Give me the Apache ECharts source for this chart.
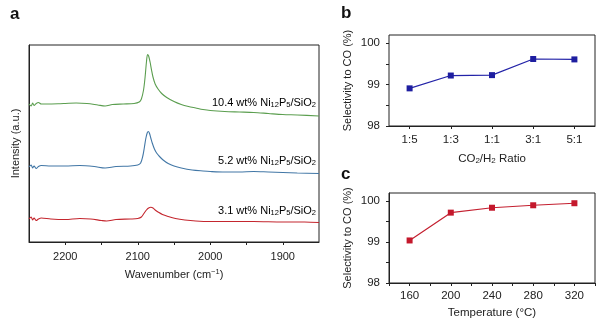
<!DOCTYPE html>
<html>
<head>
<meta charset="utf-8">
<script src="https://cdn.jsdelivr.net/npm/echarts@6/dist/echarts.min.js"></script>
<style>html,body{margin:0;padding:0;background:#fff;}#c{width:600px;height:324px;}</style>
</head>
<body>
<div id="c"></div>
<script>
// Panel a: DRIFTS spectra (wavenumber, relative intensity a.u.)
const wnGreen = [2250,2247,2245,2243,2240,2237,2233,2225,2210,2200,2185,2170,2155,2145,2135,2120,2105,2098,2095,2092,2090,2088,2086.5,2085,2083,2081,2079,2076,2072,2067,2060,2050,2040,2030,2020,2010,2000,1980,1960,1940,1920,1900,1880,1850];
const intGreen = [138,136,139,136.5,138.5,139.5,138,138,138.2,138.5,139,138.5,137,136,137.5,138,138.5,140,143,152,164,180,187.5,186,180,172,165,158,153,148.5,144.5,140.5,137.5,135.5,134,132.5,131.5,130.5,130,129.5,128.5,127.5,127,126];
const wnBlue = [2250,2247,2245,2243,2240,2237,2233,2220,2200,2180,2160,2145,2130,2110,2100,2096,2093,2091,2089,2087,2085.5,2084,2082,2080,2077,2074,2070,2065,2058,2050,2040,2025,2010,2000,1980,1960,1940,1920,1900,1880,1850];
const intBlue = [75,77,74,76,73.5,75.5,76.5,76,76,76.5,75.5,74,75.5,76,77,79,86,94,103,109,110.5,109,104,99,93,89,85.5,82,78.5,76,74,72,71,70.5,70,70,70.5,70,69.5,69,68.5];
const wnRed = [2250,2247,2245,2243,2240,2237,2233,2220,2200,2180,2165,2150,2143,2130,2110,2100,2095,2091,2088,2085,2082,2079,2076,2072,2066,2058,2048,2035,2020,2000,1970,1940,1900,1870,1850];
const intRed = [23,25,22,24,21.5,23,24,23,22.5,23.5,23,21.5,21,22.5,23,23.5,25,29,32,34,34.7,34,32,30,27.5,25.5,23.5,22,21,20.5,20.5,20.5,20,20,19.5];
const xTicksA = [2200,2100,2000,1900];

// Panel b: selectivity vs CO2/H2 ratio
const ratioCats = ['1:5','1:3','1:1','3:1','5:1'];
const selRatio = [98.91,99.22,99.23,99.62,99.61];

// Panel c: selectivity vs temperature
const temps = [160,200,240,280,320];
const selTemp = [99.04,99.72,99.84,99.90,99.95];

const FONT = '"Liberation Sans", Arial, sans-serif';
const subRich = {
  n:{fontSize:11, fontFamily:FONT, color:'#222'},
  s:{fontSize:7.5, fontFamily:FONT, color:'#222', padding:[5,0,0,0]},
  p:{fontSize:7.5, fontFamily:FONT, color:'#222', padding:[0,0,6,0]}
};

const chart = echarts.init(document.getElementById('c'), null, {renderer:'canvas'});
const pair = (xs, ys) => xs.map((x,i)=>[x, ys[i]]);

const axisLineStyle = {lineStyle:{color:'#222', width:1}};
const option = {
  animation:false,
  backgroundColor:'#fff',
  textStyle:{fontFamily:FONT},
  grid:[
    {left:29, right:281, top:45, bottom:82, show:true, borderColor:'#222', borderWidth:1},
    {left:389, right:5, top:35, bottom:198, show:true, borderColor:'#222', borderWidth:1},
    {left:389, right:5, top:193, bottom:41, show:true, borderColor:'#222', borderWidth:1}
  ],
  xAxis:[
    {gridIndex:0, type:'value', inverse:true, min:1850, max:2250, interval:50,
     axisLine:axisLineStyle, axisTick:{show:true, length:3, lineStyle:{color:'#222'}},
     axisLabel:{margin:9, fontSize:11, color:'#222', fontFamily:FONT,
       formatter:v=> xTicksA.includes(v) ? String(v) : '', showMinLabel:false, showMaxLabel:false},
     splitLine:{show:false},
     name:'{n|Wavenumber (cm}{p|−1}{n|)}', nameLocation:'middle', nameGap:26,
     nameTextStyle:{rich:subRich}},
    {gridIndex:1, type:'category', data:ratioCats, boundaryGap:true,
     axisLine:axisLineStyle, axisTick:{show:true, alignWithLabel:true, length:3, lineStyle:{color:'#222'}},
     axisLabel:{margin:8, fontSize:11.5, color:'#222', fontFamily:FONT},
     name:'{n|CO}{s|2}{n|/H}{s|2}{n| Ratio}', nameLocation:'middle', nameGap:26,
     nameTextStyle:{rich:{n:{fontSize:11.5,fontFamily:FONT,color:'#222'},s:{fontSize:8,fontFamily:FONT,color:'#222',padding:[5,0,0,0]}}}},
    {gridIndex:2, type:'value', min:140, max:340, interval:20,
     axisLine:axisLineStyle, axisTick:{show:true, length:3, lineStyle:{color:'#222'}},
     axisLabel:{margin:7, fontSize:11.5, color:'#222', fontFamily:FONT,
       formatter:v=> temps.includes(v) ? String(v) : ''},
     splitLine:{show:false},
     name:'Temperature (°C)', nameLocation:'middle', nameGap:24,
     nameTextStyle:{fontSize:11.5, color:'#222', fontFamily:FONT}}
  ],
  yAxis:[
    {gridIndex:0, type:'value', min:0, max:197, axisLabel:{show:false}, axisTick:{show:false},
     splitLine:{show:false}, axisLine:axisLineStyle,
     name:'Intensity (a.u.)', nameLocation:'middle', nameGap:8, nameRotate:90,
     nameTextStyle:{fontSize:11, color:'#222', fontFamily:FONT}},
    {gridIndex:1, type:'value', min:98, max:100.2, interval:0.5,
     axisLine:axisLineStyle, axisTick:{show:true, length:3, lineStyle:{color:'#222'}},
     axisLabel:{margin:9, fontSize:11.5, color:'#222', fontFamily:FONT,
       formatter:v=> Number.isInteger(v) ? String(v) : '', showMaxLabel:false},
     splitLine:{show:false},
     name:'Selectivity to CO (%)', nameLocation:'middle', nameGap:36, nameRotate:90,
     nameTextStyle:{fontSize:11, color:'#222', fontFamily:FONT}},
    {gridIndex:2, type:'value', min:98, max:100.2, interval:0.5,
     axisLine:axisLineStyle, axisTick:{show:true, length:3, lineStyle:{color:'#222'}},
     axisLabel:{margin:9, fontSize:11.5, color:'#222', fontFamily:FONT,
       formatter:v=> Number.isInteger(v) ? String(v) : '', showMaxLabel:false},
     splitLine:{show:false},
     name:'Selectivity to CO (%)', nameLocation:'middle', nameGap:36, nameRotate:90,
     nameTextStyle:{fontSize:11, color:'#222', fontFamily:FONT}}
  ],
  series:[
    {type:'line', xAxisIndex:0, yAxisIndex:0, data:pair(wnGreen,intGreen), smooth:0.3, showSymbol:false,
     lineStyle:{color:'#5b9e4f', width:1.1}},
    {type:'line', xAxisIndex:0, yAxisIndex:0, data:pair(wnBlue,intBlue), smooth:0.3, showSymbol:false,
     lineStyle:{color:'#4277a6', width:1.1}},
    {type:'line', xAxisIndex:0, yAxisIndex:0, data:pair(wnRed,intRed), smooth:0.3, showSymbol:false,
     lineStyle:{color:'#c4262e', width:1.1}},
    {type:'line', xAxisIndex:1, yAxisIndex:1, data:selRatio, symbol:'rect', symbolSize:6,
     lineStyle:{color:'#2323a8', width:1.2}, itemStyle:{color:'#1e1ea0'}},
    {type:'line', xAxisIndex:2, yAxisIndex:2, data:pair(temps,selTemp), symbol:'rect', symbolSize:6,
     lineStyle:{color:'#c42030', width:1.2}, itemStyle:{color:'#c4182c'}}
  ],
  graphic:[
    {type:'text', left:10, top:6, style:{text:'a', font:'bold 17px '+FONT, fill:'#111'}},
    {type:'text', left:341, top:5, style:{text:'b', font:'bold 17px '+FONT, fill:'#111'}},
    {type:'text', left:341, top:166, style:{text:'c', font:'bold 17px '+FONT, fill:'#111'}},
    {type:'text', right:284, top:97, style:{text:'{n|10.4 wt% Ni}{s|12}{n|P}{s|5}{n|/SiO}{s|2}', rich:subRich}},
    {type:'text', right:284, top:155, style:{text:'{n|5.2 wt% Ni}{s|12}{n|P}{s|5}{n|/SiO}{s|2}', rich:subRich}},
    {type:'text', right:284, top:205, style:{text:'{n|3.1 wt% Ni}{s|12}{n|P}{s|5}{n|/SiO}{s|2}', rich:subRich}}
  ]
};
chart.setOption(option);
</script>
</body>
</html>
